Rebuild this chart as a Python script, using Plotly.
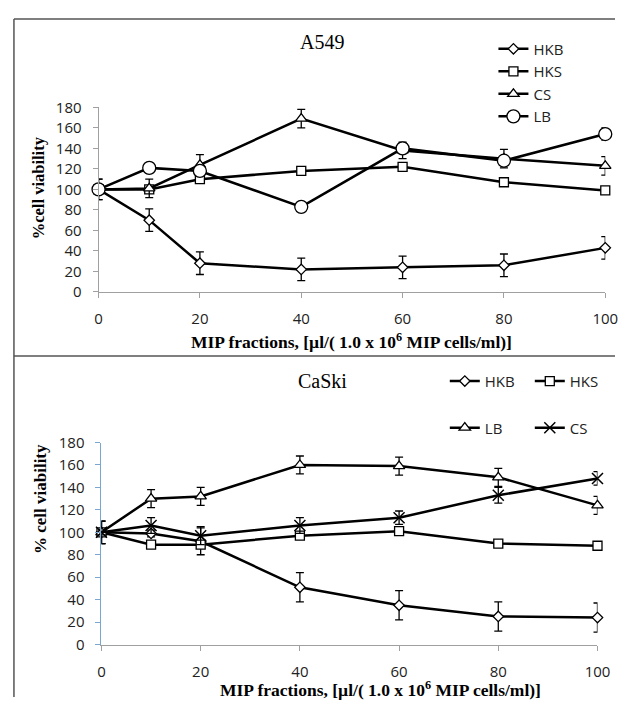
import plotly.graph_objects as go

x_vals = [0, 10, 20, 40, 60, 80, 100]

# A549 panel
a549_hkb = [100, 70, 28, 22, 24, 26, 43]
a549_hkb_err = [10, 11, 11, 11, 11, 11, 11]
a549_hks = [100, 100, 110, 118, 122, 107, 99]
a549_hks_err = [2, 2, 2, 2, 3, 1, 1]
a549_cs = [100, 101, 124, 169, 138, 130, 123]
a549_cs_err = [10, 9, 10, 9, 8, 9, 9]
a549_lb = [100, 121, 118, 83, 140, 128, 154]
a549_lb_err = [2, 5, 4, 1, 5, 4, 6]

# CaSki panel
caski_hkb = [100, 99, 92, 51, 35, 25, 24]
caski_hkb_err = [10, 3, 12, 13, 13, 13, 13]
caski_hks = [100, 89, 89, 97, 101, 90, 88]
caski_hks_err = [2, 2, 2, 2, 2, 1, 1]
caski_lb = [100, 130, 132, 160, 159, 149, 124]
caski_lb_err = [10, 8, 8, 8, 8, 8, 8]
caski_cs = [100, 106, 97, 106, 113, 133, 148]
caski_cs_err = [10, 7, 8, 7, 6, 7, 6]

y_ticks = [0, 20, 40, 60, 80, 100, 120, 140, 160, 180]
x_ticks = [0, 20, 40, 60, 80, 100]

# figure sized so that, with the page's default 8px body margin, it fills 636x714
OFF = 8
W, H = 636 - 2 * OFF, 714 - 2 * OFF
def px(v): return (v - OFF) / W
def py(v): return 1 - (v - OFF) / H

fig = go.Figure()

def add(xa, ya, y, err, name, symbol, size, legend):
    fig.add_trace(go.Scatter(
        x=x_vals, y=y, name=name, mode="lines+markers",
        xaxis=xa, yaxis=ya, legend=legend,
        line=dict(color="black", width=2.5),
        marker=dict(symbol=symbol, size=size, color="white",
                    line=dict(color="black", width=1.3)),
        error_y=dict(type="data", array=err, color="black", thickness=1.3, width=4),
        cliponaxis=False,
    ))

add("x", "y", a549_hkb, a549_hkb_err, "HKB", "diamond", 8, "legend")
add("x", "y", a549_hks, a549_hks_err, "HKS", "square", 9, "legend")
add("x", "y", a549_cs, a549_cs_err, "CS", "triangle-up", 10, "legend")
add("x", "y", a549_lb, a549_lb_err, "LB", "circle", 13, "legend")

add("x2", "y2", caski_hkb, caski_hkb_err, "HKB", "diamond", 8, "legend2")
add("x2", "y2", caski_hks, caski_hks_err, "HKS", "square", 9, "legend2")
add("x2", "y2", caski_lb, caski_lb_err, "LB", "triangle-up", 10, "legend3")
fig.add_trace(go.Scatter(
    x=x_vals, y=caski_cs, name="CS", mode="lines+markers",
    xaxis="x2", yaxis="y2", legend="legend3",
    line=dict(color="black", width=2.5),
    marker=dict(symbol="x-thin", size=11, color="black",
                line=dict(color="black", width=1.5)),
    error_y=dict(type="data", array=caski_cs_err, color="black", thickness=1.3, width=4),
    cliponaxis=False,
))

tickfont = dict(family="Open Sans", size=15, color="#222")
axis_common = dict(showgrid=False, zeroline=False, ticks="outside", ticklen=5,
                   tickfont=tickfont, fixedrange=True, ticklabelstandoff=8)
legfont = dict(family="Open Sans", size=15, color="#222")

fig.update_layout(
    width=W, height=H, margin=dict(l=0, r=0, t=0, b=0),
    paper_bgcolor="white", plot_bgcolor="white",
    xaxis=dict(domain=[px(97), px(618)], range=[0, 100], tickvals=x_ticks,
               anchor="y", showline=True, linecolor="#a0a0a0", tickcolor="#a0a0a0",
               **axis_common),
    yaxis=dict(domain=[py(289), py(99)], range=[0, 180], tickvals=y_ticks,
               anchor="x", showline=True, linecolor="#a0a0a0", tickcolor="#a0a0a0",
               **axis_common),
    xaxis2=dict(domain=[px(100), px(610)], range=[0, 100], tickvals=x_ticks,
                anchor="y2", showline=True, linecolor="#a0a0a0", tickcolor="#a0a0a0",
                **axis_common),
    yaxis2=dict(domain=[py(652), py(444)], range=[0, 180], tickvals=y_ticks,
                anchor="x2", showline=True, linecolor="#7aa6d2", tickcolor="#7aa6d2",
                **axis_common),
    legend=dict(x=px(503), y=py(22), xanchor="left", yanchor="top", font=legfont,
                bgcolor="rgba(0,0,0,0)", orientation="v"),
    legend2=dict(x=px(453), y=py(364), xanchor="left", yanchor="top", font=legfont,
                 bgcolor="rgba(0,0,0,0)", orientation="h", entrywidth=40),
    legend3=dict(x=px(453), y=py(412), xanchor="left", yanchor="top", font=legfont,
                 bgcolor="rgba(0,0,0,0)", orientation="h", entrywidth=40),
    showlegend=True,
)

serif = "Liberation Serif"
xtitle = "<b>MIP fractions, [µl/( 1.0 x 10<sup>6</sup> MIP cells/ml)]</b>"
ann = [
    dict(text="A549", x=px(327), y=py(32), font=dict(family=serif, size=20, color="black")),
    dict(text="CaSki", x=px(327), y=py(381), font=dict(family=serif, size=20, color="black")),
    dict(text="<b>%cell viability</b>", x=px(35), y=py(182), textangle=-90,
         font=dict(family=serif, size=16.5, color="black")),
    dict(text="<b>% cell viability</b>", x=px(38), y=py(502), textangle=-90,
         font=dict(family=serif, size=17, color="black")),
    dict(text=xtitle, x=px(357), y=py(339), font=dict(family=serif, size=17.5, color="black")),
    dict(text=xtitle, x=px(387), y=py(698), font=dict(family=serif, size=17.5, color="black")),
]
for a in ann:
    a.update(xref="paper", yref="paper", showarrow=False, xanchor="center", yanchor="middle")
fig.update_layout(annotations=ann)

border = dict(color="#555555", width=1.5)
fig.update_layout(shapes=[
    dict(type="line", xref="paper", yref="paper", x0=px(10), x1=1, y0=1, y1=1, line=border),
    dict(type="line", xref="paper", yref="paper", x0=px(10), x1=px(10), y0=1, y1=0, line=border),
    dict(type="line", xref="paper", yref="paper", x0=px(10), x1=1, y0=py(355), y1=py(355), line=border),
])

fig.write_html("out.html", config={"displayModeBar": False})
